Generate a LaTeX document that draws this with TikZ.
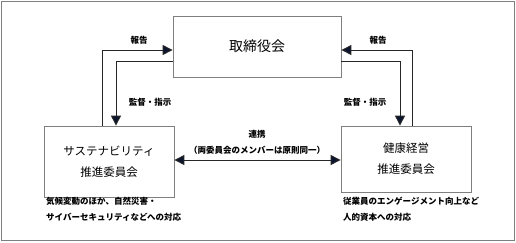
\documentclass[tikz,border=0pt]{standalone}
\usepackage{fontspec}
\newfontfamily\jp{Noto Sans CJK JP}
\usetikzlibrary{arrows.meta,calc}
\definecolor{boxgray}{HTML}{7F7F7F}
\definecolor{linecol}{HTML}{262626}
\definecolor{tipcol}{HTML}{0B1530}
\begin{document}
\begin{tikzpicture}[x=1pt,y=-1pt,
  box/.style={draw=boxgray,line width=0.8pt,fill=white,inner sep=0pt,align=center,font=\jp\fontsize{11.5}{21}\selectfont},
  arr/.style={draw=linecol,line width=1pt,-{Triangle[length=10pt,width=10pt,fill=tipcol]}},
  darr/.style={draw=linecol,line width=1pt,{Triangle[length=10pt,width=10pt,fill=tipcol]}-{Triangle[length=10pt,width=10pt,fill=tipcol]}},
  lab/.style={font=\jp\bfseries\fontsize{8.5}{10}\selectfont,inner sep=0pt},
  desc/.style={font=\jp\bfseries\fontsize{8.5}{16}\selectfont,inner sep=0pt,anchor=west,align=left}]
\useasboundingbox (0,0) rectangle (516,242);
\draw[boxgray,line width=0.8pt] (1.5,1.5) rectangle (514,240);
% boxes
\node[box,minimum width=168pt,minimum height=61pt,font=\jp\fontsize{14}{16}\selectfont] (tb) at (257,46.5) {取締役会};
\node[box,minimum width=130pt,minimum height=71pt] (lb) at (109,161.5) {サステナビリティ\\推進委員会};
\node[box,minimum width=130pt,minimum height=66pt] (rb) at (406,159) {健康経営\\推進委員会};
% connector coordinates
\coordinate (lr) at (102,50);
\coordinate (ls) at (116,61);
\coordinate (rr) at (412,50);
\coordinate (rs) at (400,61);
\draw[arr] (lb.north -| lr) |- (tb.west |- lr);
\draw[arr] (tb.west |- ls) -| (lb.north -| ls);
\draw[arr] (rb.north -| rr) |- (tb.east |- rr);
\draw[arr] (tb.east |- rs) -| (rb.north -| rs);
\coordinate (mid) at (0,160);
\draw[darr] (lb.east |- mid) -- (rb.west |- mid);
% labels
\node[lab] (l1) at (139,40) {報告};
\node[lab] (l2) at (150,102) {監督・指示};
\node[lab] (l3) at (378,40) {報告};
\node[lab] (l4) at (365,102) {監督・指示};
\node[lab] (l5) at (257,134) {連携};
\node[lab] (l6) at (257,150) {（両委員会のメンバーは原則同一）};
\node[desc] (d1) at (46,209) {気候変動のほか、自然災害・\\サイバーセキュリティなどへの対応};
\node[desc] (d2) at (343,209) {従業員のエンゲージメント向上など\\人的資本への対応};
\end{tikzpicture}
\end{document}
